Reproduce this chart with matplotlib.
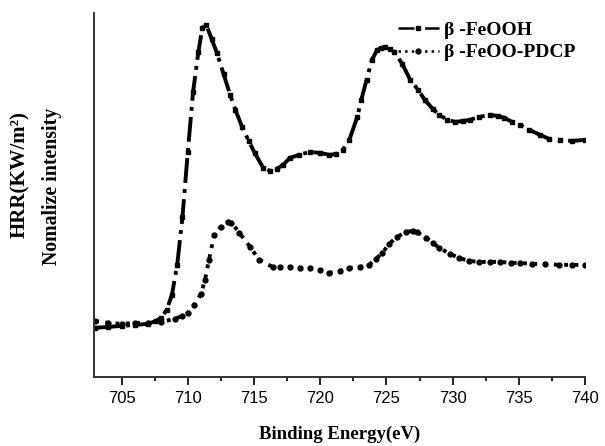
import matplotlib
matplotlib.use("Agg")
import matplotlib.pyplot as plt
from matplotlib.ticker import MultipleLocator

# binding energy (eV) and intensity (arbitrary)
feooh_x = [703.0, 704.0, 705.0, 706.0, 707.0, 707.6, 708.0, 708.4, 708.8, 709.2, 709.6, 710.0,
           710.4, 710.8, 711.1, 711.4, 711.8, 712.2, 712.7, 713.2, 713.6, 714.1, 714.6, 715.05,
           715.7, 716.2, 716.7, 717.2, 717.7, 718.4, 719.2, 720.0, 720.7, 721.2, 721.7, 722.2,
           722.8, 723.1, 723.5, 723.9, 724.3, 724.6, 724.9, 725.3, 725.6, 726.2, 726.8, 727.4,
           727.9, 728.5, 729.0, 729.6, 730.2, 730.8, 731.3, 732.0, 732.8, 733.4, 733.9, 734.5,
           735.1, 735.8, 736.6, 737.3, 738.1, 739.0, 740.0]
feooh_y = [49, 50, 51, 52, 53, 56, 59, 67, 82, 112, 160, 225,
           285, 325, 349, 352, 338, 324, 303, 282, 267, 250, 236, 224,
           209, 206, 208, 212, 219, 222, 225, 224, 222, 223, 227, 237,
           260, 277, 297, 317, 327, 329, 330, 328, 325, 313, 297, 287,
           277, 268, 262, 257, 255, 256, 257, 260, 262, 261, 259, 255,
           252, 247, 242, 238, 237, 236, 237]

pdcp_x = [703.0, 704.0, 705.0, 706.0, 707.0, 708.0, 709.0, 709.6, 710.0, 710.5, 711.0, 711.3,
          711.6, 712.0, 712.5, 713.0, 713.3, 713.9, 714.7, 715.4, 716.4, 717.0, 717.7, 718.5,
          719.2, 720.0, 720.7, 721.5, 722.2, 723.0, 723.7, 724.2, 724.7, 725.2, 725.8, 726.5,
          727.0, 727.3, 728.0, 728.5, 729.0, 729.8, 730.5, 731.2, 732.0, 732.8, 733.6, 734.4,
          735.1, 736.0, 737.0, 738.0, 739.0, 740.0]
pdcp_y = [56, 54, 53, 54, 54, 55, 58, 61, 64, 72, 83, 97,
          117, 142, 150, 155, 154, 144, 130, 117, 110, 110, 110, 109,
          109, 107, 104, 106, 109, 110, 112, 118, 124, 133, 140, 145,
          146, 145, 139, 134, 129, 123, 119, 116, 115, 115, 115, 114,
          114, 113, 113, 112, 112, 112]

xticks = [705, 710, 715, 720, 725, 730, 735, 740]

serif_bold = {"family": "Liberation Serif", "weight": "bold"}

fig = plt.figure(figsize=(6.05, 4.46), dpi=100)
ax = fig.add_axes([0.155, 0.155, 0.812, 0.816])

ax.plot(feooh_x, feooh_y, color="black", linestyle="-.", linewidth=2.8,
        marker="s", markersize=3.5, label="β -FeOOH")
ax.plot(pdcp_x, pdcp_y, color="black", linestyle=":", linewidth=2.8,
        marker="o", markersize=3.5, label="β -FeOO-PDCP")

ax.set_xlim(702.9, 740)
ax.set_ylim(0, 364)
ax.set_xticks(xticks)
ax.xaxis.set_minor_locator(MultipleLocator(2.5))
ax.set_yticks([])

for side in ["top", "right"]:
    ax.spines[side].set_visible(False)
for side in ["left", "bottom"]:
    ax.spines[side].set_linewidth(1.4)
    ax.spines[side].set_color("#333333")

ax.tick_params(axis="x", which="major", length=6, width=1.2, labelsize=12, pad=4)
ax.tick_params(axis="x", which="minor", length=3, width=1.2)
for lab in ax.get_xticklabels():
    lab.set_fontfamily("Liberation Sans")

ax.set_xlabel("Binding Energy(eV)", fontsize=13.5, labelpad=14, **serif_bold)

fig.text(0.033, 0.608, "HRR(KW/m²)", rotation=90, ha="center", va="center",
         fontsize=15, **serif_bold)
fig.text(0.086, 0.583, "Nomalize intensity", rotation=90, ha="center", va="center",
         fontsize=14.3, **serif_bold)

leg = ax.legend(loc="upper right", bbox_to_anchor=(1.015, 1.025), frameon=False,
                handlelength=2.1, handletextpad=0.25, labelspacing=0.25,
                prop={"family": "Liberation Serif", "weight": "bold", "size": 14})
for h in leg.get_lines():
    h.set_linewidth(1.8)

fig.savefig("out.png", dpi=100)
